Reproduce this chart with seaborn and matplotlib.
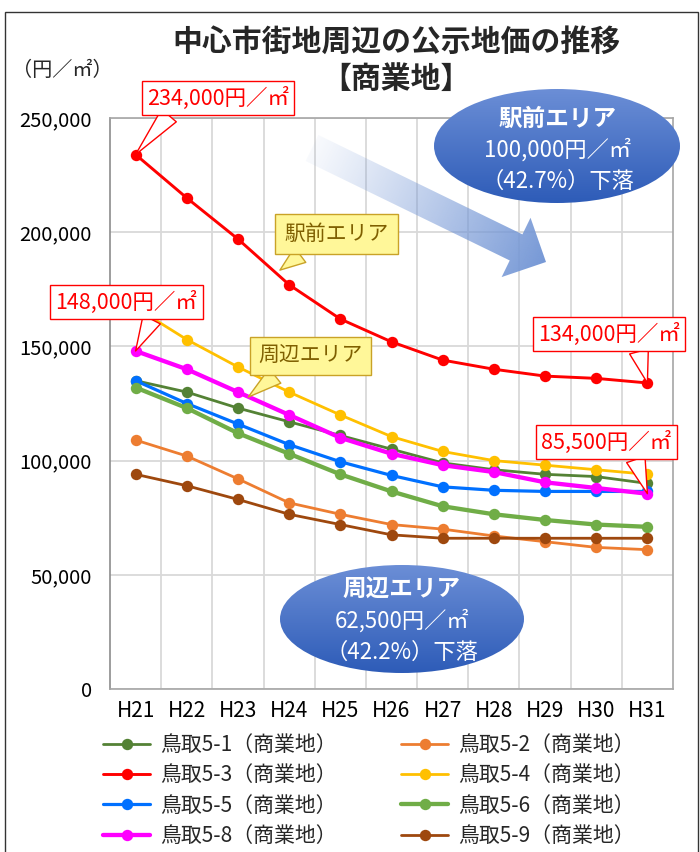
import numpy as np
import pandas as pd
import matplotlib
matplotlib.use("Agg")
import matplotlib.pyplot as plt
import seaborn as sns
from matplotlib.patches import Ellipse, Polygon, Rectangle
from matplotlib.lines import Line2D
from matplotlib.colors import to_rgb
from matplotlib.ticker import FuncFormatter

# data (yen per square metre)
years = ["H21", "H22", "H23", "H24", "H25", "H26", "H27", "H28", "H29", "H30", "H31"]
s5_1 = [135000, 130000, 123000, 117000, 111000, 105000, 99000, 96000, 94000, 93000, 90000]
s5_2 = [109000, 102000, 92000, 81500, 76500, 72000, 70000, 67000, 64500, 62000, 61000]
s5_3 = [234000, 215000, 197000, 177000, 162000, 152000, 144000, 140000, 137000, 136000, 134000]
s5_4 = [167000, 153000, 141000, 130000, 120000, 110500, 104000, 100000, 98000, 96000, 94000]
s5_5 = [135000, 125000, 116000, 107000, 99500, 93500, 88500, 87000, 86500, 86500, 86500]
s5_6 = [132000, 123000, 112000, 103000, 94000, 86500, 80000, 76500, 74000, 72000, 71000]
s5_8 = [148000, 140000, 130000, 120000, 110000, 103000, 98000, 95000, 90500, 88000, 85500]
s5_9 = [94000, 89000, 83000, 76500, 72000, 67500, 66000, 66000, 66000, 66000, 66000]

names = ["鳥取5-1（商業地）", "鳥取5-2（商業地）", "鳥取5-3（商業地）", "鳥取5-4（商業地）",
         "鳥取5-5（商業地）", "鳥取5-6（商業地）", "鳥取5-8（商業地）", "鳥取5-9（商業地）"]
values = [s5_1, s5_2, s5_3, s5_4, s5_5, s5_6, s5_8, s5_9]

colors = ["#548235", "#ED7D31", "#FF0000", "#FFC000", "#0070FF", "#70AD47", "#FF00FF", "#9E480E"]
widths = [2.0, 2.0, 2.1, 2.0, 2.3, 3.1, 3.1, 2.0]

df = pd.DataFrame({
    "年度": years * len(names),
    "価格": np.concatenate(values),
    "地点": np.repeat(names, len(years)),
})

sns.set_theme(style="white")
plt.rcParams["font.family"] = ["Noto Sans CJK JP", "DejaVu Sans"]

fig = plt.figure(figsize=(7, 8.52), dpi=100)
ax = fig.add_axes([110 / 700, 1 - 689 / 852, 563 / 700, 571 / 852])

for i, (name, col, lw) in enumerate(zip(names, colors, widths)):
    sns.lineplot(data=df[df["地点"] == name], x="年度", y="価格", color=col, lw=lw,
                 marker="o", markersize=8.2, markeredgewidth=0, sort=False,
                 legend=False, ax=ax, zorder=3 + i)

ax.set_xlim(-0.5, 10.5)
ax.set_ylim(0, 250000)
ax.set_yticks(range(0, 250001, 50000))
ax.yaxis.set_major_formatter(FuncFormatter(lambda v, _: f"{int(v):,}"))
ax.set_xticks(np.arange(0.5, 10, 1), minor=True)
ax.set_axisbelow(True)
ax.grid(axis="y", which="major", color="#D9D9D9", lw=1.3)
ax.grid(axis="x", which="minor", color="#D9D9D9", lw=1.3)
ax.tick_params(which="both", length=0)
ax.tick_params(axis="y", pad=13, labelsize=14.5, labelcolor="black")
ax.tick_params(axis="x", pad=8, labelsize=15, labelcolor="black")
ax.set_xlabel("")
ax.set_ylabel("")
for side in ["top", "right", "bottom"]:
    ax.spines[side].set_color("#A6A6A6")
    ax.spines[side].set_linewidth(1.2)
ax.spines["left"].set_color("#8C8C8C")
ax.spines["left"].set_linewidth(1.2)


def callout(text, xy, xytext, relpos, ec, fc, tc, size, pad, tail=0.9):
    ax.annotate(text, xy=xy, xytext=xytext, ha="center", va="center", color=tc,
                fontsize=size, annotation_clip=False, zorder=20,
                bbox=dict(boxstyle=f"square,pad={pad}", fc=fc, ec=ec, lw=1),
                arrowprops=dict(arrowstyle=f"wedge,tail_width={tail},shrink_factor=0.5",
                                fc=fc, ec=ec, lw=1, relpos=relpos, shrinkA=0, shrinkB=0))


red = "#FF0000"
callout(f"{s5_3[0]:,}円／㎡", (0, s5_3[0]), (1.61, 258700), (0.19, 0), red, "white", red, 15.5, 0.25)
callout(f"{s5_8[0]:,}円／㎡", (0, s5_8[0]), (-0.18, 169400), (0.7, 0), red, "white", red, 15.5, 0.25)
callout(f"{s5_3[-1]:,}円／㎡", (10, s5_3[-1]), (9.25, 155400), (0.7, 0), red, "white", red, 15.5, 0.25)
callout(f"{s5_8[-1]:,}円／㎡", (10, s5_8[-1]), (9.2, 108100), (0.71, 0), red, "white", red, 15.5, 0.25)
callout("駅前エリア", (2.82, 183400), (3.92, 199200), (0.28, 0), "#C9A227", "#FFF799", "#7F5F00", 15, 0.45)
callout("周辺エリア", (2.2, 127800), (3.41, 145800), (0.27, 0), "#C9A227", "#FFF799", "#7F5F00", 15, 0.4)

# overlay in pixel coordinates for the shapes
ov = fig.add_axes([0, 0, 1, 1], zorder=2)
ov.set_axis_off()
ov.patch.set_alpha(0)


def gradient_ellipse(cx, cy, w, h, top, bottom):
    e = Ellipse((cx, cy), w, h, fc="none", ec="none")
    ov.add_patch(e)
    g = np.linspace(0, 1, 64)[:, None, None]
    c0, c1 = np.array(to_rgb(top)), np.array(to_rgb(bottom))
    img = c0 + (c1 - c0) * g
    im = ov.imshow(img, extent=(cx - w / 2, cx + w / 2, cy + h / 2, cy - h / 2),
                   origin="upper", aspect="auto", interpolation="bilinear")
    im.set_clip_path(e)


gradient_ellipse(557, 146, 246, 114, "#6B8ED6", "#2E5CB8")
gradient_ellipse(402, 619, 244, 108, "#6B8ED6", "#2E5CB8")

# big translucent arrow
T = np.array([312.0, 148.0])
d = np.array([234.0, 114.0])
L = np.hypot(*d)
u = d / L
p = np.array([-u[1], u[0]])
hb, hw, tw = 227, 33, 14.5
pts = [T + p * tw, T + u * hb + p * tw, T + u * hb + p * hw, T + u * L,
       T + u * hb - p * hw, T + u * hb - p * tw, T - p * tw]
poly = Polygon(pts, closed=True, fc="none", ec="none")
ov.add_patch(poly)
xs = np.linspace(295, 560, 240)
ys = np.linspace(125, 290, 160)
X, Y = np.meshgrid(xs, ys)
t = np.clip(((X - T[0]) * u[0] + (Y - T[1]) * u[1]) / L, 0, 1)
rgba = np.zeros(X.shape + (4,))
rgba[..., :3] = to_rgb("#7698D6")
rgba[..., 3] = 0.05 + 0.95 * t ** 1.1
im = ov.imshow(rgba, extent=(295, 560, 290, 125), origin="upper", aspect="auto",
               interpolation="bilinear")
im.set_clip_path(poly)

ov.set_xlim(0, 700)
ov.set_ylim(852, 0)

txt = dict(ha="center", va="center", color="white")
drop3 = s5_3[0] - s5_3[-1]
drop8 = s5_8[0] - s5_8[-1]
ov.text(558, 119, "駅前エリア", fontsize=17, fontweight="bold", **txt)
ov.text(558, 150, f"{drop3:,}円／㎡", fontsize=16, **txt)
ov.text(558, 181, f"（{drop3 / s5_3[0] * 100:.1f}%）下落", fontsize=16, **txt)
ov.text(402, 590, "周辺エリア", fontsize=17, fontweight="bold", **txt)
ov.text(402, 621, f"{drop8:,}円／㎡", fontsize=16, **txt)
ov.text(402, 652, f"（{drop8 / s5_8[0] * 100:.1f}%）下落", fontsize=16, **txt)

# titles
fig.text(396 / 700, 1 - 42 / 852, "中心市街地周辺の公示地価の推移", ha="center", va="center",
         fontsize=21.5, fontweight="bold")
fig.text(396 / 700, 1 - 79 / 852, "【商業地】", ha="center", va="center",
         fontsize=21.5, fontweight="bold")
fig.text(62 / 700, 1 - 70 / 852, "（円／㎡）", ha="center", va="center", fontsize=14.5)

# legend, filled row by row like the original
order = [0, 2, 4, 6, 1, 3, 5, 7]
handles = [Line2D([], [], color=colors[i], lw=widths[i], marker="o", markersize=8.2,
                  markeredgewidth=0) for i in order]
fig.legend(handles, [names[i] for i in order], ncol=2, loc="upper left",
           bbox_to_anchor=(103 / 700, 1 - 734 / 852), frameon=False, borderaxespad=0,
           borderpad=0, fontsize=15, handlelength=2.26, handletextpad=0.48,
           columnspacing=3.1, labelspacing=0.4)

fig.patches.append(Rectangle((5 / 700, -0.05), 693 / 700, 1.05 - 12 / 852, transform=fig.transFigure,
                             fill=False, ec="#333333", lw=1.0))

fig.savefig("out.png", dpi=100)
